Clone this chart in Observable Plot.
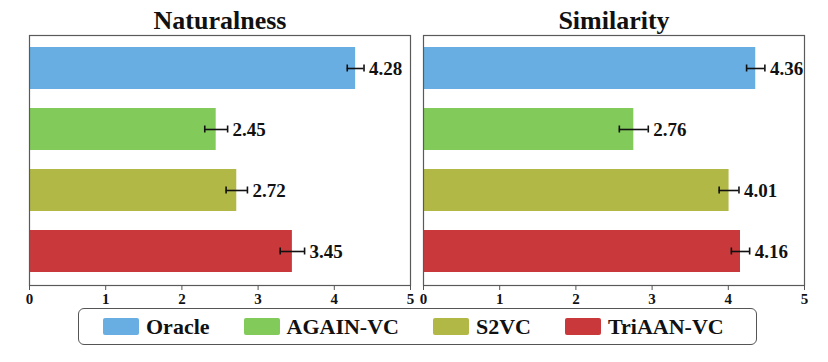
<!DOCTYPE html>
<html>
<head>
<meta charset="utf-8">
<script src="https://cdn.jsdelivr.net/npm/d3@7"></script>
<script src="https://cdn.jsdelivr.net/npm/@observablehq/plot@0.6"></script>
<style>
  html, body { margin: 0; padding: 0; background: #fff; }
  #wrap { position: relative; width: 828px; height: 362px; font-family: "Liberation Serif", "Times New Roman", serif; }
  #legend {
    position: absolute; left: 78px; top: 308px; width: 679px; height: 37px; box-sizing: border-box;
    border: 1.3px solid #555; border-radius: 6px; display: flex; align-items: center;
    padding-left: 24px; gap: 34px; font-weight: bold; font-size: 22px; color: #111;
  }
  .item { display: flex; align-items: center; gap: 7px; }
  .sw { width: 36px; height: 17px; border-radius: 2px; }
</style>
</head>
<body>
<div id="wrap"></div>
<script>
const models = ["Oracle", "AGAIN-VC", "S2VC", "TriAAN-VC"];
const metrics = ["Naturalness", "Similarity"];
const naturalness = [4.28, 2.45, 2.72, 3.45];
const naturalnessErr = [0.11, 0.15, 0.14, 0.16];
const similarity = [4.36, 2.76, 4.01, 4.16];
const similarityErr = [0.12, 0.19, 0.13, 0.12];
const colors = ["#68aee2", "#82ca5a", "#b2b846", "#c9393b"];
const xTicks = [0, 1, 2, 3, 4, 5];

const rows = [];
models.forEach((m, i) => {
  rows.push({metric: metrics[0], model: m, value: naturalness[i], err: naturalnessErr[i]});
  rows.push({metric: metrics[1], model: m, value: similarity[i], err: similarityErr[i]});
});
rows.forEach(d => { d.lo = d.value - d.err; d.hi = d.value + d.err; d.label = d.value.toFixed(2); });
const titles = metrics.map(m => ({metric: m}));

const chart = Plot.plot({
  width: 828,
  height: 306,
  marginLeft: 29,
  marginRight: 24,
  marginTop: 35,
  marginBottom: 21,
  style: {fontFamily: "Liberation Serif, Times New Roman, serif", background: "#fff"},
  fx: {domain: metrics, axis: null, paddingInner: 0.034, paddingOuter: 0},
  y: {domain: models, axis: null, paddingInner: 0.31, paddingOuter: 0.19},
  x: {domain: [0, 5]},
  color: {domain: models, range: colors},
  marks: [
    Plot.barX(rows, {x: "value", y: "model", fx: "metric", fill: "model"}),
    Plot.ruleY(rows, {y: "model", x1: "lo", x2: "hi", fx: "metric", stroke: "#111", strokeWidth: 1.6}),
    Plot.tickX(rows, {x: "lo", y: "model", fx: "metric", stroke: "#111", strokeWidth: 1.6, insetTop: 17.5, insetBottom: 17.5}),
    Plot.tickX(rows, {x: "hi", y: "model", fx: "metric", stroke: "#111", strokeWidth: 1.6, insetTop: 17.5, insetBottom: 17.5}),
    Plot.text(rows, {x: "hi", y: "model", fx: "metric", text: "label", textAnchor: "start", dx: 5, fontSize: 19, fontWeight: "bold", fill: "#111"}),
    Plot.frame({stroke: "#5a5a5a", strokeWidth: 1.2}),
    Plot.axisX({ticks: xTicks, tickSize: 5, tickPadding: 3, stroke: "#555", fontSize: 15, fontWeight: "bold", fill: "#111", tickFormat: d3.format("d")}),
    Plot.text(titles, {fx: "metric", text: "metric", frameAnchor: "top", dy: -7, lineAnchor: "bottom", fontSize: 26, fontWeight: "bold", fill: "#111"})
  ]
});
const wrap = document.getElementById("wrap");
wrap.appendChild(chart);

const legend = document.createElement("div");
legend.id = "legend";
models.forEach((m, i) => {
  const it = document.createElement("div");
  it.className = "item";
  const sw = document.createElement("div");
  sw.className = "sw";
  sw.style.background = colors[i];
  const t = document.createElement("span");
  t.textContent = m;
  it.appendChild(sw); it.appendChild(t);
  legend.appendChild(it);
});
wrap.appendChild(legend);
</script>
</body>
</html>
